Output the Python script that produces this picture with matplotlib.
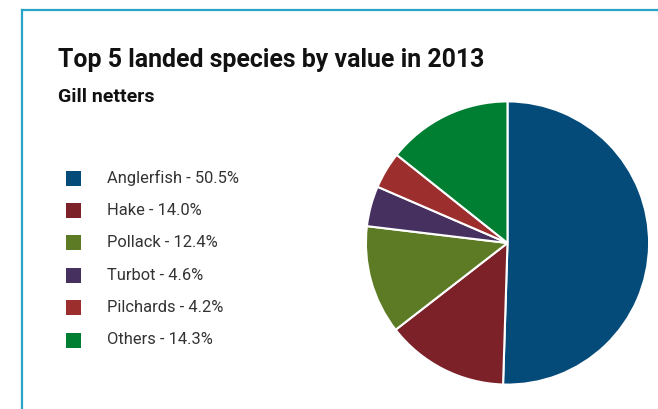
import matplotlib
matplotlib.use("Agg")
import matplotlib.pyplot as plt
from matplotlib.patches import Rectangle
from matplotlib.lines import Line2D

species = ["Anglerfish", "Hake", "Pollack", "Turbot", "Pilchards", "Others"]
shares = [50.5, 14.0, 12.4, 4.6, 4.2, 14.3]
colors = ["#054b7a", "#7c2128", "#5d7a24", "#46305f", "#9c2e2e", "#007f33"]
title = "Top 5 landed species by value in 2013"
subtitle = "Gill netters"

W, H = 658, 409
fig = plt.figure(figsize=(W / 100, H / 100), dpi=100)
fig.patch.set_facecolor("white")

# frame lines (left and top)
frame_c = "#2aa3c8"
fig.add_artist(Line2D([22 / W, 22 / W], [0, 1 - 10 / H], color=frame_c, lw=1.6, transform=fig.transFigure))
fig.add_artist(Line2D([22 / W, 1], [1 - 10 / H, 1 - 10 / H], color=frame_c, lw=1.6, transform=fig.transFigure))

fig.text(58 / W, 1 - 67 / H, title, fontsize=17.9, fontweight="bold", family="Roboto",
         color="#111111", va="baseline", ha="left")
fig.text(58 / W, 1 - 102 / H, subtitle, fontsize=14, fontweight="bold", family="Roboto",
         color="#111111", va="baseline", ha="left")

# legend
y0, dy = 178, 32.4
for i, (s, v, c) in enumerate(zip(species, shares, colors)):
    yc = y0 + i * dy
    fig.add_artist(Rectangle((66 / W, 1 - (yc + 7.5) / H), 15 / W, 15 / H, transform=fig.transFigure,
                             facecolor=c, edgecolor="none"))
    fig.text(107 / W, 1 - yc / H, f"{s} - {v:.1f}%", fontsize=11.9, family="Roboto",
             color="#333333", va="center", ha="left")

# pie
cx, cy, r = 507.5, 243, 143
ax = fig.add_axes([(cx - r) / W, (H - cy - r) / H, 2 * r / W, 2 * r / H])
ax.pie(shares, colors=colors, startangle=90, counterclock=False,
       wedgeprops=dict(edgecolor="white", linewidth=1.5))
ax.set_xlim(-1.01, 1.01)
ax.set_ylim(-1.01, 1.01)
ax.set_aspect("equal")
ax.axis("off")

fig.savefig("out.png", dpi=100)
